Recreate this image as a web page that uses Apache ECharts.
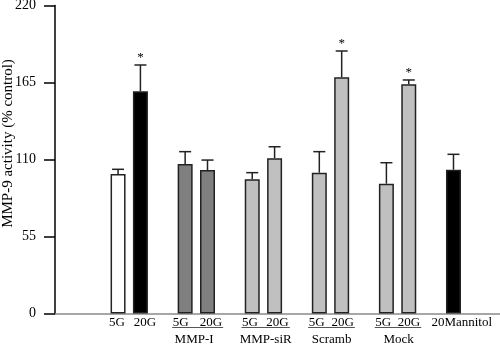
<!DOCTYPE html>
<html>
<head>
<meta charset="utf-8">
<script src="https://cdn.jsdelivr.net/npm/echarts@6/dist/echarts.min.js"></script>
<style>
  html, body { margin: 0; padding: 0; background: #fff; }
  #chart { width: 500px; height: 346px; }
</style>
</head>
<body>
<div id="chart"></div>
<script>
// bar slots on the x scale (gaps between the groups are empty slots)
const positions = [0, 1, 3, 4, 6, 7, 9, 10, 12, 13, 15]
const means = [99.6, 158.7, 106.8, 102.5, 95.9, 110.9, 100.6, 168.7, 92.7, 163.7, 102.7]
const errors = [3.4, 18.8, 8.8, 7.1, 4.7, 8.2, 15.0, 18.8, 15.0, 3.1, 11.0]
const significant = [false, true, false, false, false, false, false, true, false, true, false]
const barColors = ['#ffffff', '#000000', '#7f7f7f', '#7f7f7f', '#c0c0c0', '#c0c0c0', '#c0c0c0', '#c0c0c0', '#c0c0c0', '#c0c0c0', '#000000']

// tick labels
const barLabelAt = [-0.05, 1.2, 2.8, 4.15, 5.9, 7.13, 8.88, 10.04, 11.86, 13.01, 15.37]
const barLabels = ['5G', '20G', '5G', '20G', '5G', '20G', '5G', '20G', '5G', '20G', '20Mannitol']
const groupLabelAt = [3.4, 6.6, 9.55, 12.55]
const groupLabels = ['MMP-I', 'MMP-siR', 'Scramb', 'Mock']
// pairs that are underlined (first and last bar index)
const underlined = [[2, 3], [4, 5], [6, 7], [8, 9]]
const yTicks = [0, 55, 110, 165, 220]

const font = "'Liberation Serif', 'Times New Roman', serif"
const chart = echarts.init(document.getElementById('chart'))

function labelFor(list, at) {
  return function(v) {
    for (let i = 0; i < at.length; i++) {
      if (Math.abs(at[i] - v) < 1e-6) return list[i]
    }
    return ''
  }
}

const xMin = -2.82
const xMax = 17.08

chart.setOption({
  animation: false,
  grid: { left: 55, right: 0, top: 5.5, bottom: 32.5, containLabel: false, outerBoundsMode: 'none' },
  xAxis: [
    {
      type: 'value',
      min: xMin,
      max: xMax,
      splitLine: { show: false },
      axisLine: { show: true, onZero: false, lineStyle: { color: '#8a8a8a', width: 1.5 } },
      axisTick: { show: false },
      axisLabel: {
        customValues: barLabelAt,
        formatter: labelFor(barLabels, barLabelAt),
        margin: 3,
        color: '#000',
        fontFamily: font,
        fontSize: 13
      }
    },
    {
      type: 'value',
      min: xMin,
      max: xMax,
      position: 'bottom',
      offset: 17,
      splitLine: { show: false },
      axisLine: { show: false },
      axisTick: { show: false },
      axisLabel: {
        customValues: groupLabelAt,
        formatter: labelFor(groupLabels, groupLabelAt),
        margin: 3,
        color: '#000',
        fontFamily: font,
        fontSize: 13
      }
    }
  ],
  yAxis: {
    type: 'value',
    min: 0,
    max: 220,
    interval: 55,
    name: 'MMP-9 activity (% control)',
    nameLocation: 'middle',
    nameGap: 39,
    nameMoveOverlap: false,
    nameTextStyle: { color: '#000', fontFamily: font, fontSize: 15, padding: [0, 0, 0, 32] },
    splitLine: { show: false },
    axisLine: { show: true, onZero: false, lineStyle: { color: '#000', width: 1.5 } },
    axisTick: { show: true, length: 11, lineStyle: { color: '#000', width: 1.5 } },
    axisLabel: {
      margin: 19,
      color: '#000',
      fontFamily: font,
      fontSize: 14,
      formatter: v => (yTicks.indexOf(v) >= 0 ? String(v) : '')
    }
  },
  series: [
    {
      type: 'bar',
      barWidth: 15,
      data: positions.map((x, i) => ({
        value: [x, means[i]],
        itemStyle: { color: barColors[i], borderColor: '#222', borderWidth: 1.5 }
      }))
    },
    {
      type: 'custom',
      data: positions.map((x, i) => [x, means[i], errors[i], significant[i] ? 1 : 0]),
      renderItem(params, api) {
        const base = api.coord([api.value(0), api.value(1)])
        const top = api.coord([api.value(0), api.value(1) + api.value(2)])
        const half = 6
        const style = { stroke: '#222', lineWidth: 1.5 }
        const children = [
          { type: 'line', shape: { x1: base[0], y1: base[1], x2: top[0], y2: top[1] }, style },
          { type: 'line', shape: { x1: top[0] - half, y1: top[1], x2: top[0] + half, y2: top[1] }, style }
        ]
        if (api.value(3)) {
          children.push({
            type: 'text',
            style: {
              text: '*', x: top[0], y: top[1] - 7,
              align: 'center', verticalAlign: 'middle',
              fontFamily: font, fontSize: 13, fill: '#000'
            }
          })
        }
        return { type: 'group', children }
      }
    }
  ]
})

// underlines under the treatment pairs
const lineY = chart.convertToPixel({ yAxisIndex: 0 }, 0) + 14
chart.setOption({
  graphic: underlined.map(([a, b]) => ({
    type: 'line',
    shape: {
      x1: chart.convertToPixel({ xAxisIndex: 0 }, barLabelAt[a] - 0.38),
      y1: lineY,
      x2: chart.convertToPixel({ xAxisIndex: 0 }, barLabelAt[b] + 0.55),
      y2: lineY
    },
    style: { stroke: '#555', lineWidth: 1 }
  }))
})
</script>
</body>
</html>
